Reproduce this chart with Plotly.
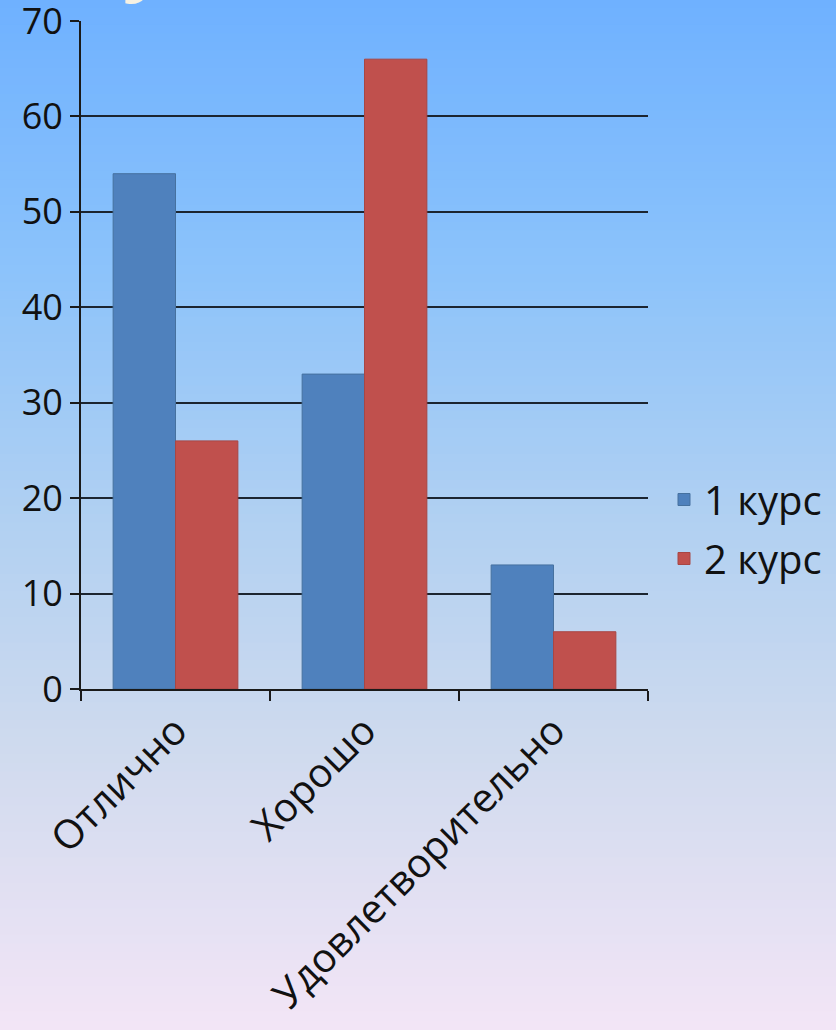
import plotly.graph_objects as go

# Grade distribution for two study years
categories = ["Отлично", "Хорошо", "Удовлетворительно"]
year1 = [54, 33, 13]
year2 = [26, 66, 6]
series_names = ["1 курс", "2 курс"]
y_ticks = [0, 10, 20, 30, 40, 50, 60, 70]

W, H = 836, 1030
FONT = "Open Sans"

fig = go.Figure()
fig.add_trace(go.Bar(
    x=categories, y=year1, name=series_names[0], legendgroup="a",
    marker=dict(color="#4f81bd", line=dict(color="#46719f", width=1)),
))
fig.add_trace(go.Bar(
    x=categories, y=year2, name=series_names[1], legendgroup="b",
    marker=dict(color="#c0504d", line=dict(color="#a84644", width=1)),
))

# Vertical background gradient, blue at the top fading to pale lilac
stops = [
    (0.00, (111, 177, 255)),
    (0.25, (138, 194, 251)),
    (0.50, (176, 208, 242)),
    (0.72, (206, 218, 238)),
    (1.00, (243, 229, 246)),
]

def lerp_color(t):
    for (t0, c0), (t1, c1) in zip(stops, stops[1:]):
        if t0 <= t <= t1:
            f = (t - t0) / (t1 - t0)
            return tuple(round(a + (b - a) * f) for a, b in zip(c0, c1))
    return stops[-1][1]

n = 120
shapes = []
for i in range(n):
    t = (i + 0.5) / n
    r, g, b = lerp_color(t)
    shapes.append(dict(
        type="rect", xref="paper", yref="paper", layer="below",
        x0=0, x1=1, y0=1 - (i + 1) / n - 0.001, y1=1 - i / n + 0.001,
        line=dict(width=0), fillcolor=f"rgb({r},{g},{b})",
    ))

fig.update_layout(
    width=W, height=H,
    margin=dict(l=0, r=0, t=0, b=0),
    paper_bgcolor="#b0d0f2",
    plot_bgcolor="rgba(0,0,0,0)",
    shapes=shapes,
    barmode="group",
    bargap=0.34,
    bargroupgap=0,
    font=dict(family=FONT, size=34, color="#111111"),
    showlegend=True,
    legend=dict(
        x=664 / W, y=1 - 529 / H, xanchor="left", yanchor="middle",
        bgcolor="rgba(0,0,0,0)", font=dict(size=40, color="#111111"),
        traceorder="grouped", tracegroupgap=4,
        itemwidth=30,
    ),
    xaxis=dict(
        domain=[81 / W, 648 / W],
        type="category",
        showline=True, linecolor="#1a1a1a", linewidth=2,
        ticks="outside", tickson="boundaries", ticklen=10,
        tickcolor="#1a1a1a", tickwidth=2,
        tickangle=-45, showgrid=False, automargin=False,
        tickfont=dict(size=40),
    ),
    yaxis=dict(
        domain=[1 - 689 / H, 1 - 21 / H],
        range=[0, 70],
        tickvals=y_ticks,
        showline=True, linecolor="#1a1a1a", linewidth=2,
        ticks="outside", ticklen=9, tickcolor="#1a1a1a", tickwidth=2,
        showgrid=True, gridcolor="#1c2530", gridwidth=2,
        zeroline=False, automargin=False,
        ticklabeloverflow="allow",
        tickfont=dict(size=36),
    ),
    annotations=[dict(
        text="<b>Студенты</b>", xref="paper", yref="paper",
        x=28 / W, y=1 - 10 / H, xanchor="left", yanchor="bottom",
        showarrow=False, font=dict(family=FONT, size=78, color="#f6f1e2"),
    )],
)

fig.write_html("out.html")
